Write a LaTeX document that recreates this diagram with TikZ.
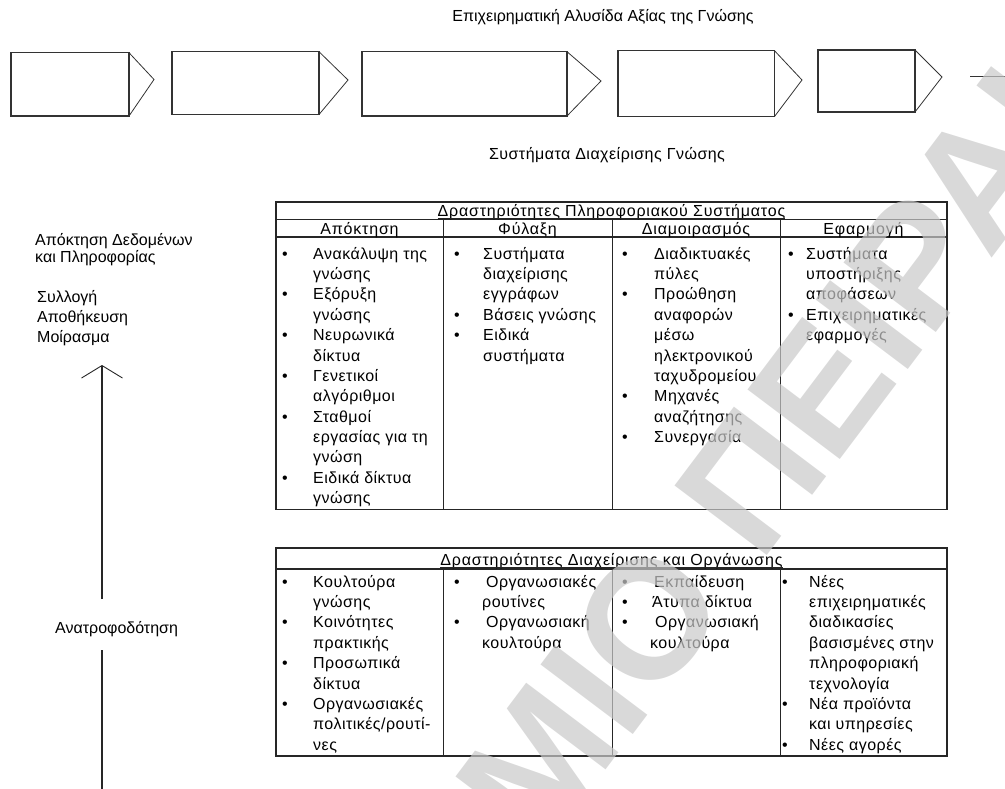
\documentclass[tikz,border=0pt]{standalone}
\usepackage{fontspec}
\setmainfont{Liberation Sans}
\newfontfamily\widefont{Liberation Sans}[LetterSpace=3]
\newfontfamily\widerfont{Liberation Sans}[LetterSpace=5]
\usepackage{array}
\usetikzlibrary{arrows.meta}

% bullet list cell: first column holds the bullet, second the text
\newcommand\cellrows[2]{\begin{tabular}[t]{@{}w{l}{#1}@{}l@{}}#2\end{tabular}}

\tikzset{
  txt/.style={font=\fontsize{16}{20.4}\selectfont, inner sep=0pt, text=black},
  cell/.style={font=\widefont\fontsize{16}{20.4}\selectfont, inner sep=0pt,
               anchor=base west},
  hdr/.style={txt, anchor=base},
  colhdr/.style={font=\widerfont\fontsize{16}{20.4}\selectfont, inner sep=0pt,
                 anchor=base},
  lbl/.style={txt, anchor=base west},
  rule/.style={line width=1.1pt, draw=black!85},
  thinrule/.style={line width=0.9pt, draw=black!85},
  boxside/.style={line width=1.3pt, draw=black!80},
  boxtip/.style={line width=0.8pt, draw=black!80},
  uline/.style={line width=0.8pt, draw=black!85},
  wmark/.style={font=\fontsize{168}{168}\selectfont\bfseries, text=black!21,
               text opacity=0.7, inner sep=0pt}
}

\begin{document}
\begin{tikzpicture}[x=1pt,y=-1pt]
\useasboundingbox (0,0) rectangle (1005,789);

% ---------- value chain ----------
\node[hdr] (chain) at (603,22) {Επιχειρηματική Αλυσίδα Αξίας της Γνώσης};

% box: left / right / tip x, top / bottom / tip y
\foreach \i/\xl/\xr/\xt/\yt/\yb/\ym in {1/11/129/154/52.7/116/79.5,
                                        2/172/319/348/51.7/114.5/80,
                                        3/362/567/601/51.7/116/81,
                                        4/618/774.5/802/50.7/116.5/80,
                                        5/818/915/942/50/112/77} {
  \coordinate (b\i nw) at (\xl,\yt);
  \coordinate (b\i ne) at (\xr,\yt);
  \coordinate (b\i se) at (\xr,\yb);
  \coordinate (b\i sw) at (\xl,\yb);
  \coordinate (b\i tip) at (\xt,\ym);
  \draw[boxside] (b\i ne) -- (b\i nw) -- (b\i sw) -- (b\i se) -- cycle;
  \draw[boxtip] (b\i ne) -- (b\i tip) -- (b\i se);
}
\coordinate (tailA) at (970,76.5);
\coordinate (tailB) at (1005,76.5);
\draw[boxside] (tailA) -- (tailB);

\node[hdr, font=\widefont\fontsize{16}{20.4}\selectfont] (kms) at (607,160)
  {Συστήματα Διαχείρισης Γνώσης};

% ---------- left column ----------
\node[lbl] (acq1) at (35,246) {Απόκτηση Δεδομένων};
\node[lbl] (acq2) at (35,262) {και Πληροφορίας};
\node[lbl] (st1) at (37,302) {Συλλογή};
\node[lbl] (st2) at (37,322.5) {Αποθήκευση};
\node[lbl] (st3) at (37,342.5) {Μοίρασμα};
\node[lbl] (fb) at (55,633.5) {Ανατροφοδότηση};

\coordinate (tip) at (102,365);
\coordinate (upend) at (102,599);
\coordinate (lowstart) at (102,650);
\coordinate (lowend) at (102,789);
\draw[line width=1.2pt, draw=black!85,
      -{Straight Barb[length=12.5pt,width=41pt,line width=0.9pt]}] (upend) -- (tip);
\draw[line width=1.2pt, draw=black!85] (lowend) -- (lowstart);

% ---------- information system activities ----------
\draw[rule] (276,202) rectangle (947,509.5);
\draw[rule] (276,219.5) -- (947,219.5);
\draw[rule] (276,237) -- (947,237);
\foreach \x in {443,612,780} \draw[thinrule] (\x,219.5) -- (\x,509.5);

\node[colhdr] (isys) at (611.5,217) {Δραστηριότητες Πληροφοριακού Συστήματος};
\draw[uline] ([yshift=-1.5pt]isys.base west) -- ([yshift=-1.5pt]isys.base east);

\node[colhdr] (c1) at (359.5,234) {Απόκτηση};
\node[colhdr] (c2) at (527.5,234) {Φύλαξη};
\node[colhdr] (c3) at (696,234) {Διαμοιρασμός};
\node[colhdr] (c4) at (863.5,234) {Εφαρμογή};

\node[cell] (u1) at (282,259) {\cellrows{31pt}{%
 • & Ανακάλυψη της\\
   & γνώσης\\
 • & Εξόρυξη\\
   & γνώσης\\
 • & Νευρωνικά\\
   & δίκτυα\\
 • & Γενετικοί\\
   & αλγόριθμοι\\
 • & Σταθμοί\\
   & εργασίας για τη\\
   & γνώση\\
 • & Ειδικά δίκτυα\\
   & γνώσης}};

\node[cell] (u2) at (454,259) {\cellrows{29pt}{%
 • & Συστήματα\\
   & διαχείρισης\\
   & εγγράφων\\
 • & Βάσεις γνώσης\\
 • & Ειδικά\\
   & συστήματα}};

\node[cell] (u3) at (622,259) {\cellrows{32pt}{%
 • & Διαδικτυακές\\
   & πύλες\\
 • & Προώθηση\\
   & αναφορών\\
   & μέσω\\
   & ηλεκτρονικού\\
   & ταχυδρομείου\\
 • & Μηχανές\\
   & αναζήτησης\\
 • & Συνεργασία}};

\node[cell] (u4) at (788,259) {\cellrows{18pt}{%
 • & Συστήματα\\
   & υποστήριξης\\
   & αποφάσεων\\
 • & Επιχειρηματικές\\
   & εφαρμογές}};

% ---------- management and organisation activities ----------
\draw[rule] (276,548) rectangle (947,756);
\draw[rule] (276,569) -- (947,569);
\foreach \x in {443,612,780} \draw[thinrule] (\x,569) -- (\x,756);

\node[colhdr] (morg) at (611.5,565.5) {Δραστηριότητες Διαχείρισης και Οργάνωσης};
\draw[uline] ([yshift=-1.5pt]morg.base west) -- ([yshift=-1.5pt]morg.base east);

\node[cell] (l1) at (282,587) {\cellrows{31pt}{%
 • & Κουλτούρα\\
   & γνώσης\\
 • & Κοινότητες\\
   & πρακτικής\\
 • & Προσωπικά\\
   & δίκτυα\\
 • & Οργανωσιακές\\
   & πολιτικές/ρουτί-\\
   & νες}};

\node[cell] (l2) at (454,587) {\cellrows{28pt}{%
 • & \hspace{4pt}Οργανωσιακές\\
   & ρουτίνες\\
 • & \hspace{4pt}Οργανωσιακή\\
   & κουλτούρα}};

\node[cell] (l3) at (622,587) {\cellrows{28pt}{%
 • & \hspace{4pt}Εκπαίδευση\\
 • & \hspace{2pt}Άτυπα δίκτυα\\
 • & \hspace{5pt}Οργανωσιακή\\
   & κουλτούρα}};

\node[cell] (l4) at (782,587) {\cellrows{27pt}{%
 • & Νέες\\
   & επιχειρηματικές\\
   & διαδικασίες\\
   & βασισμένες στην\\
   & πληροφοριακή\\
   & τεχνολογία\\
 • & Νέα προϊόντα\\
   & και υπηρεσίες\\
 • & Νέες αγορές}};

% ---------- watermark ----------
\begin{scope}
  \clip (0,0) rectangle (1005,789);
  \node[wmark, rotate=53] (wm) at (515,795) {ΠΑΝΕΠΙΣΤΗΜΙΟ ΠΕΙΡΑΙΑ};
\end{scope}
\end{tikzpicture}
\end{document}
